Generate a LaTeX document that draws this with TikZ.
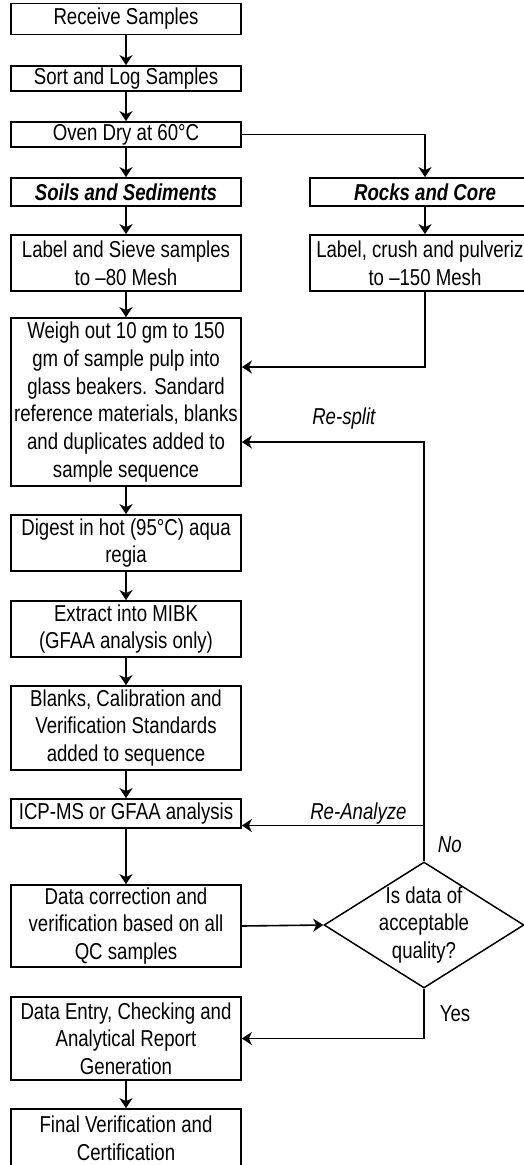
\documentclass[tikz,border=0pt]{standalone}
\usepackage{fontspec}
\setmainfont{Liberation Sans}[FakeStretch=0.81]
\usetikzlibrary{shapes.geometric, arrows.meta, positioning, calc}
\newcommand{\bigfont}{\fontsize{23}{27.7}\selectfont}

\begin{document}
\begin{tikzpicture}[x=1pt, y=-1pt,
		box/.style={rectangle, draw=black, line width=1.7pt,
			minimum width=230pt, inner sep=1pt,
			align=center, font=\bigfont},
		head/.style={box, font=\bigfont\bfseries\itshape},
		decision/.style={diamond, draw=black, line width=1.5pt,
			minimum width=200pt, minimum height=126pt, inner sep=0pt},
		flow/.style={-{Stealth[length=10pt, width=13pt, inset=3pt]}, line width=1.6pt},
		note/.style={inner sep=0pt, font=\bigfont},
		tag/.style={inner sep=0pt, font=\bigfont\itshape}
		]
		\useasboundingbox (0,0) rectangle (524,1165);
		
		% Left column
		\node[box, minimum height=31pt] (recv)  at (126, 19)    {Receive Samples};
		\node[box, minimum height=25pt] (sort)  at (126, 78.5)  {Sort and Log Samples};
		\node[box, minimum height=25pt] (oven)  at (126, 134.5) {Oven Dry at 60°C};
		\node[head, minimum height=28pt] (soils) at (126, 192)  {Soils and Sediments};
		\node[box, minimum height=56pt] (sieve) at (126, 263)   {Label and Sieve samples\\to –80 Mesh};
		
		% Right column
		\node[head, minimum height=28pt] (rocks) at (425, 192)  {Rocks and Core};
		\node[box, minimum height=56pt] (crush) at (425, 263)   {Label, crush and pulveriz\phantom{e}\\to –150 Mesh};
		
		% Lab steps
		\node[box, minimum height=168pt] (weigh) at (126, 402) {Weigh out 10 gm to 150\\gm of sample pulp into\\glass beakers. Sandard\\reference materials, blanks\\and duplicates added to\\sample sequence};
		\node[box, minimum height=56pt] (digest)  at (126, 543)    {Digest in hot (95°C) aqua\\regia};
		\node[box, minimum height=56pt] (extract) at (126, 629)    {Extract into MIBK\\(GFAA analysis only)};
		\node[box, minimum height=84pt] (blanks)  at (126, 728)    {Blanks, Calibration and\\Verification Standards\\added to sequence};
		\node[box, minimum height=29pt] (icp)     at (126, 813.5)  {ICP-MS or GFAA analysis};
		\node[box, minimum height=82pt] (qc)      at (126, 926)    {Data correction and\\verification based on all\\QC samples};
		\node[box, minimum height=83pt] (entry)   at (126, 1038.5) {Data Entry, Checking and\\Analytical Report\\Generation};
		\node[box, minimum height=58pt] (final)   at (126, 1138)   {Final Verification and\\Certification};
		
		% Decision
		\node[decision] (check) at (424, 925) {};
		\node[note, align=center] (checktxt) at (check) {Is data of\\acceptable\\quality?};
		
		% Arrows
		\foreach \a/\b in {recv/sort, sort/oven, oven/soils, soils/sieve, sieve/weigh,
			weigh/digest, digest/extract, extract/blanks, blanks/icp, icp/qc,
			rocks/crush, entry/final}
		\draw[flow] (\a) -- (\b);
		
		\draw[flow] (oven.east) -| (rocks.north);
		\draw[flow] (crush.south) |- ([yshift=35pt]weigh.east);
		\draw[flow] (qc.east) -- (check.west);
		
		% Feedback loops
		\draw[flow] (check.north) |- ([yshift=-40pt]weigh.east)
		node[tag, pos=0.02, right=13pt] {No}
		node[tag, pos=0.72, above=12pt] {Re-split};
		\draw[flow] ([yshift=-12pt]icp.east -| check.north) -- ([yshift=-12pt]icp.east)
		node[tag, pos=0.36, above=0pt] {Re-Analyze};
		\draw[flow] (check.south) |- (entry.east)
		node[note, pos=0.25, right=15pt] {Yes};
	\end{tikzpicture}
\end{document}
